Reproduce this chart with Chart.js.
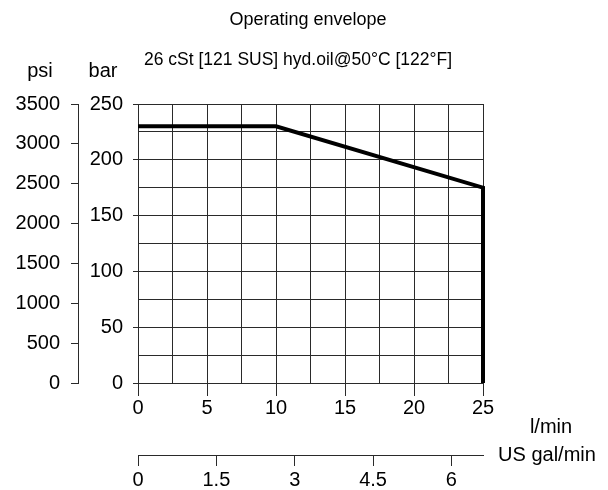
<!DOCTYPE html>
<html>
<head>
<meta charset="utf-8">
<script src="https://cdn.jsdelivr.net/npm/chart.js@4.4.1/dist/chart.umd.min.js"></script>
<style>
  html, body { margin: 0; padding: 0; background: #fff; }
  #wrap { width: 608px; height: 490px; position: relative; }
</style>
</head>
<body>
<div id="wrap"><canvas id="c"></canvas></div>
<script>
// ---- data ----
const flowLpm = [0, 10, 25, 25];
const pressureBar = [230, 230, 175, 0];

// ---- tick labels ----
const flowTickLabels = [0, 5, 10, 15, 20, 25];
const barTickLabels = [0, 50, 100, 150, 200, 250];
const psiTickLabels = [0, 500, 1000, 1500, 2000, 2500, 3000, 3500];
const galTickLabels = [0, 1.5, 3, 4.5, 6];

const titleText = 'Operating envelope';
const subtitleText = '26 cSt [121 SUS] hyd.oil@50°C [122°F]';
const psiLabel = 'psi';
const barLabel = 'bar';
const flowLabel = 'l/min';
const galLabel = 'US gal/min';

const LPM_PER_GAL = 3.785411784;
const FONT = "'Liberation Sans', Arial, sans-serif";
const INK = '#000';
const GRID = '#2a2a2a';
const TICK_SIZE = 20;

const points = flowLpm.map((x, i) => ({ x: x, y: pressureBar[i] }));

const isLabeled = (arr, v) => arr.some(a => Math.abs(a - v) < 1e-6);

const textPlugin = {
  id: 'texts',
  afterDraw(chart) {
    const ctx = chart.ctx;
    const a = chart.chartArea;
    const psi = chart.scales.psi;
    const bar = chart.scales.y;
    const gal = chart.scales.gal;
    ctx.save();
    ctx.fillStyle = INK;
    ctx.textBaseline = 'middle';
    ctx.textAlign = 'center';
    ctx.font = '18px ' + FONT;
    ctx.fillText(titleText, 308, a.top - 84);
    ctx.font = '17.5px ' + FONT;
    ctx.fillText(subtitleText, 298, a.top - 44);
    ctx.font = '20px ' + FONT;
    ctx.fillText(psiLabel, psi.right - 38, a.top - 33);
    ctx.fillText(barLabel, bar.right - 35, a.top - 33);
    ctx.fillText(flowLabel, a.right + 68, a.bottom + 44);
    ctx.fillText(galLabel, a.right + 64, gal.top);
    ctx.restore();
  }
};

new Chart(document.getElementById('c'), {
  type: 'scatter',
  data: {
    datasets: [{
      data: points,
      showLine: true,
      borderColor: '#000',
      backgroundColor: '#000',
      borderWidth: 4,
      pointRadius: 0,
      pointHoverRadius: 0,
      borderJoinStyle: 'miter',
      clip: false,
      xAxisID: 'x',
      yAxisID: 'y'
    }]
  },
  options: {
    responsive: true,
    maintainAspectRatio: false,
    animation: false,
    events: [],
    layout: { padding: { top: 104, right: 125, bottom: 0, left: 0 } },
    plugins: { legend: { display: false }, tooltip: { enabled: false } },
    scales: {
      x: {
        type: 'linear', position: 'bottom', weight: 0,
        min: 0, max: 25,
        afterFit(s) { s.height = 72; },
        ticks: {
          stepSize: 2.5, autoSkip: false, maxRotation: 0, padding: 0,
          color: INK, font: { family: FONT, size: TICK_SIZE },
          callback: v => isLabeled(flowTickLabels, v) ? String(v) : ''
        },
        grid: {
          color: GRID, lineWidth: 1, tickLength: 13,
          tickColor: c => (c.tick && isLabeled(flowTickLabels, c.tick.value)) ? GRID : 'rgba(0,0,0,0)'
        },
        border: { display: true, color: GRID, width: 1 }
      },
      gal: {
        type: 'linear', position: 'bottom', weight: 1,
        min: 0, max: 25 / LPM_PER_GAL,
        afterFit(s) { s.height = 35; },
        afterBuildTicks(s) { s.ticks = galTickLabels.map(v => ({ value: v })); },
        ticks: {
          autoSkip: false, maxRotation: 0, padding: 2, includeBounds: false,
          color: INK, font: { family: FONT, size: TICK_SIZE },
          callback: v => String(v)
        },
        grid: { drawOnChartArea: false, color: GRID, tickLength: 11 },
        border: { display: true, color: GRID, width: 1 }
      },
      y: {
        type: 'linear', position: 'left', weight: 0,
        min: 0, max: 250,
        afterFit(s) { s.width = 60; },
        ticks: {
          stepSize: 25, autoSkip: false, padding: 10,
          color: INK, font: { family: FONT, size: TICK_SIZE },
          callback: v => isLabeled(barTickLabels, v) ? String(v) : ''
        },
        grid: {
          color: GRID, lineWidth: 1, tickLength: 5,
          tickColor: c => (c.tick && isLabeled(barTickLabels, c.tick.value)) ? GRID : 'rgba(0,0,0,0)'
        },
        border: { display: true, color: GRID, width: 1 }
      },
      psi: {
        type: 'linear', position: 'left', weight: 10,
        min: 0, max: 3500,
        afterFit(s) { s.width = 78; },
        afterBuildTicks(s) { s.ticks = psiTickLabels.map(v => ({ value: v })); },
        ticks: {
          autoSkip: false, padding: 11,
          color: INK, font: { family: FONT, size: TICK_SIZE },
          callback: v => String(v)
        },
        grid: { drawOnChartArea: false, color: GRID, tickLength: 7 },
        border: { display: true, color: GRID, width: 1 }
      }
    }
  },
  plugins: [textPlugin]
});
</script>
</body>
</html>
